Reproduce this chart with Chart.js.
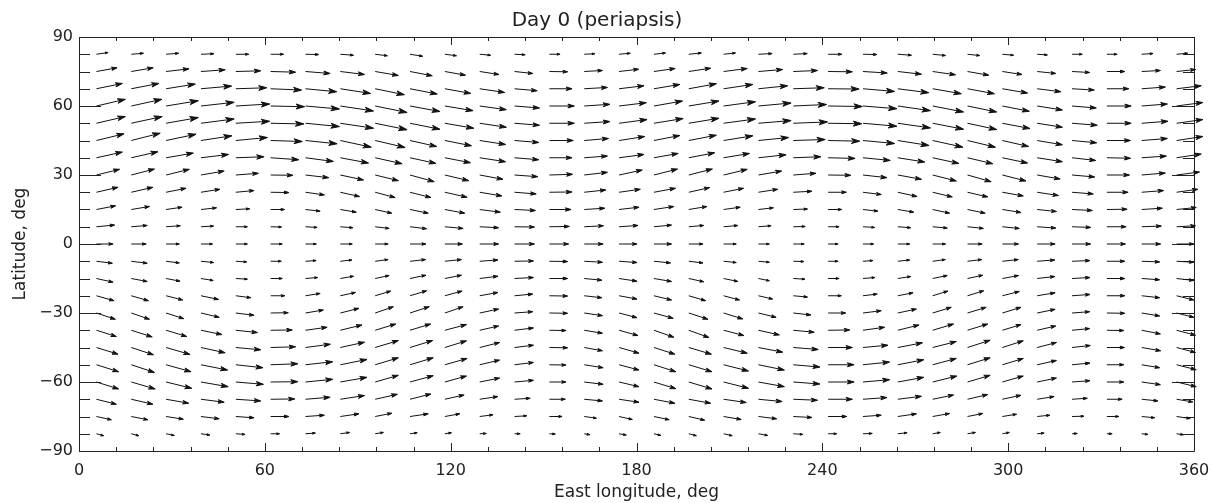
<!DOCTYPE html>
<html>
<head>
<meta charset="utf-8">
<title>Day 0 (periapsis)</title>
<script src="https://cdn.jsdelivr.net/npm/chart.js@4.4.1/dist/chart.umd.min.js"></script>
<style>
  html, body { margin: 0; padding: 0; background: #fff; }
  #wrap { width: 1212px; height: 503px; }
</style>
</head>
<body>
<div id="wrap"><canvas id="quiverChart" width="1212" height="503"></canvas></div>
<script>
// Grid of the wind vectors: east longitude and latitude, deg
const lons = [5.625, 16.875, 28.125, 39.375, 50.625, 61.875, 73.125, 84.375,
  95.625, 106.875, 118.125, 129.375, 140.625, 151.875, 163.125, 174.375,
  185.625, 196.875, 208.125, 219.375, 230.625, 241.875, 253.125, 264.375,
  275.625, 286.875, 298.125, 309.375, 320.625, 331.875, 343.125, 354.375];
const lats = [82.5, 75, 67.5, 60, 52.5, 45, 37.5, 30, 22.5, 15, 7.5, 0,
  -7.5, -15, -22.5, -30, -37.5, -45, -52.5, -60, -67.5, -75, -82.5];

// Eastward component, one row per latitude (north to south)
const uRows = [
  [11.7,12.3,12.7,13,13,13,13.3,13.3,12.3,12.7,11.7,11,10.7,10.7,10.7,11.3,11.7,12.7,12,13.7,14,13.7,14,13.7,13,12.3,11.3,10.3,10.3,10.3,11.3,11.3],
  [20.7,22,23,24.3,25,25,24.7,24.3,23.3,22.3,20.7,19.3,18.3,18.3,18.3,19.7,21.3,22,23.7,24.3,24.3,24.3,24.3,23.7,23,21.3,19.7,18.7,17.7,18,18.7,19],
  [26,27.7,29.3,30.7,31,31,31.3,30.3,29.3,27.3,26,25,22.7,22.7,23.3,25,26,27.7,29.3,29.3,31,31,31.7,31,28.7,27,25.3,23.7,22.3,22,23.7,24.7],
  [29,30.7,32.3,33.3,34,34,34,33.3,32,30,28.3,26.7,25,25,25.7,27.3,28.7,30.3,32,32.7,33.3,34.3,34,32.7,31,29.3,27,25.3,24.3,24.3,25.7,26.3],
  [29,31,32.3,33.3,34,33.3,34,33.3,32,30,29,26.7,25,25,25.7,28,29.3,30.3,32,32.7,34.3,33.7,34,32.7,31,29.3,27.7,25.3,25.3,24.3,26.3,26.3],
  [27.7,29,30,31,31.7,31.7,31.7,31,30,26.7,26.7,26,24.3,24,24.3,25.7,26,27.7,29.3,30.3,32,31.7,31.7,31.3,30.3,28,26.3,25.3,24.7,23.7,25.7,26.3],
  [26,26.7,27.3,27.7,28.3,28.3,28,28.3,27,26,25.7,26,24.3,22.7,23.3,25,24.3,26,26,27.7,27.7,27,27.3,27,26.3,25.3,25.3,25.3,23.7,23.7,24.7,24.7],
  [23.3,23.3,23.3,23.3,22.7,22.3,23.3,23.3,23.3,24.3,24,23.3,23.3,23.3,23.3,23.3,23.7,23.7,23.7,23.3,22.7,22.7,24,23.7,23.7,23.7,23.7,23,22.7,22.7,23.7,23],
  [21.7,21.7,20,19,18.3,18.3,19,19.3,20,21,22.3,22.3,21.7,22.7,21.7,21.3,21.7,21,20,19.3,18.7,18.3,18.3,19.3,19.7,20.3,21,21.3,21.3,21.3,22,21.3],
  [19.3,18.3,16,15.7,14,14,14.7,16,16.7,18.3,20,20.7,21,21.7,20.7,20,20,18.3,16.7,15,14.3,13.7,15,16,17,17.7,18.7,19.3,20.3,20.3,20.7,19.7],
  [18.3,16,14.3,12.7,11.7,11,11.7,12.7,14,16.7,18.3,19,20,20,19.3,19,17.7,15,14.3,12.7,12,11,11.7,13,14.7,16,17,18.7,18.7,19.3,19.7,19],
  [16.7,15,13.3,11.7,11.7,11.7,11,12,13,16,17.7,19,20,19.3,19,18,17.7,14.3,12.7,11,11,10,10.7,12,13,14.7,16.3,18,18.7,18.7,19,17.3],
  [16,16,13.3,12.7,11,10.7,10.7,11.7,13,15.7,16.7,18.3,19,18.3,18.3,18,16.7,14.3,12.7,11,10.7,10,10,12,12.7,14.3,16,17.7,18,18,18,17.3],
  [16.7,16,14,12.3,11.7,11.7,12.3,13.3,14,16,16.7,18.3,19,18.3,17.7,18,17.7,15,14.3,11,11.7,11,12,13,14.7,15.3,16.3,17.7,18,18,18,17.3],
  [17.7,17.3,16.7,17.7,15,14.3,14.7,15.3,15.7,16.7,17.3,18.3,18.3,18.3,17.7,18,17.7,17,16,14.3,14.3,13.3,14.3,15.3,15.3,16.3,17,18,18,18,18,17.3],
  [19,18.3,17.7,18.3,18.3,17.7,18,18.7,18.3,19.3,18.3,19,18.3,18.3,18.3,18,19.3,19.3,19.3,17.7,17.7,17.7,18.3,18.7,18.7,18.7,18.7,18,17.7,18,18,17.3],
  [20,21,20.7,21,21.7,21.7,21.7,21.7,20.7,20.7,21.7,19,19,16.7,18.3,19,20,20.3,20.3,21,21,21.7,21.7,21.3,21,20.3,18.7,18.7,17.7,17,18.7,19],
  [21.7,22.3,24,24.3,25,25,25,24.3,23.3,22.7,21.7,20,19,18.3,18.3,20,21,22.7,23.7,24.3,25,24.3,25,24.7,23.7,22.7,21,19.3,18.3,17.7,19,19],
  [22.3,23.3,25,26.7,27.3,27.3,27.3,26.7,23.3,23.3,22.3,20,19,16.7,19,20,22,23.3,25,26,26.7,26,26.7,26,23.7,22.7,21,19.3,18,17,18,19.7],
  [22.3,24,25.7,27.3,27.7,27.3,27.3,26.7,23.3,23.3,21.7,20,19,16.7,19,20,22,23.3,25,26,26.7,26,26.7,26,24.3,22.7,21,19.3,18,17,18.7,19.7],
  [20,21.7,22.7,23.3,25,24.3,24.7,24.3,22.3,21,19.3,18.3,15.7,16,18.3,20,21,22,22.7,23.7,24.3,24.3,24,23.7,21,20.3,18.7,17,15.3,15.3,16.3,16.3],
  [15,16.7,17.3,18.3,18.3,18.3,19,18.7,16.7,18.3,15,13.3,12.3,12.7,12.3,13.3,15.3,16,17.7,18.3,18.7,18.7,18.3,18.7,17,15.3,14.3,12.7,12,12,13,13.7],
  [7.3,7.7,8.3,9,9.3,9,10,9.3,8.3,7.3,6.7,6.7,5.7,6,5.7,7.3,7,7.7,8.7,9.3,9.7,8.7,9.3,9.3,7.7,8,7,7,5.3,5.3,6.3,7]
];

// Northward component, same layout
const vRows = [
  [1.7,1,1,0.5,0,0,-0.3,-1,-1.5,-2,-1.5,-1,-0.5,0,0.5,1,1.3,1.3,1.3,0.7,0.7,0,-0.3,-1,-1.3,-1.3,-1,-0.7,0,0,0.7,1],
  [3.7,3.7,2.7,1.7,0.7,-0.7,-2,-3,-4,-4.3,-3.7,-3,-2,-0.3,1,2.3,3,3.3,3,2,1,-0.3,-1.5,-2.7,-3.3,-3.7,-3,-2,-1,0,1,2],
  [5.3,5.3,4.7,2.7,1,-1.3,-3,-4.7,-6,-5.3,-4.7,-3.7,-2,0,1.3,3,4.3,5,4.3,3,1,-0.3,-2.7,-4,-5,-5,-4.3,-3,-1.3,0,1.7,3],
  [6.7,6.7,5.3,3.7,2,-0.7,-3,-5,-6.5,-5.5,-4.7,-3.7,-2,0,1.7,3.3,5,5,4.3,3,1.5,-0.5,-2.7,-4.7,-6,-6,-5.3,-4,-2,0,2,3.5],
  [6.7,6.7,5.7,4.3,2,-0.7,-3.3,-5,-6.5,-6,-5,-4,-2,0,1.7,3.7,4.7,5,4.3,2.7,1.3,-0.5,-3,-4.7,-6,-6.3,-5.3,-4,-2,0,2,3.7],
  [6.7,7.3,6.3,4.7,3,-1,-3.3,-6.7,-7,-6,-5.3,-4,-2,0,2,4,5,5.3,4.7,3,1,-0.7,-3,-5,-6.7,-6.7,-6,-4.3,-2.3,0,2,4],
  [5.7,6,4.7,3.3,1,-2,-3.7,-5.3,-6,-5.7,-5,-4,-2,0,1.7,3.3,4.3,5,4.3,3,1,-0.7,-2.7,-4.3,-5.7,-6,-5.3,-4,-2.7,-0.5,1.7,3.7],
  [5.7,6,5.7,4,1.7,-0.3,-2.7,-5,-5.7,-6.7,-5.7,-4.3,-1.7,0.7,2.7,5,6,6,5.7,4,1.7,-0.3,-2.7,-4.3,-6,-6.7,-6,-4,-2,0,2,3],
  [5,5,4,3,1.7,-0.3,-2.7,-4.3,-5.3,-5.3,-5,-3.7,-1.7,0.3,2.3,3,4,4.7,4,3,1,0,-2.3,-4.3,-4.7,-4.7,-3.7,-3.3,-1.7,0,1.7,3],
  [3.7,3,2.3,1.7,0.7,0,-1.7,-2.7,-3.7,-3.7,-3.7,-2.7,-1,0,1.3,2.3,3,3,2.3,1.7,0.5,0,-1.7,-2.7,-3.7,-3.7,-3,-2,-1,0.3,1.3,2],
  [1.7,1.3,1,0.7,0,-0.3,-0.7,-1,-1.7,-2,-1.7,-1,-0.3,0.3,1,1.3,1.7,1.3,1.3,1,0.3,0,-0.7,-1,-1.3,-1.7,-1.7,-1.3,-0.7,0,0.7,1],
  [0,0,0,0,0,0,0,0,0,0,0,0,0,0,0,0,0,0,0,0,0,0,0,0,0,0,0,0,0,0,0,0],
  [-2,-2,-1.7,-1.3,-0.7,0,0.7,1.3,1.7,1.7,1.7,1.3,0.3,-0.3,-1,-1.3,-1.7,-1.7,-1.3,-1,-0.3,0,0.7,1.3,1.7,1.7,1.7,1.3,0.7,0,-0.7,-1],
  [-3.7,-3,-2.7,-2,-0.7,0,1,2.3,3,3.3,3.3,2.3,1,0,-1.7,-2.7,-3,-3.3,-3,-2.3,-0.7,0,1,2,3,3.3,3,2,1,0,-1.3,-2],
  [-5,-5,-4.3,-3.7,-2,0,2.3,3.3,4.7,5,4.7,3.3,1.7,-0.3,-2,-3.3,-4.3,-5,-4.3,-3.3,-1.3,0,1.7,3,4.7,5,4.3,3,1.3,0,-2,-4.3],
  [-6.3,-6.3,-5.7,-4.3,-2.3,0.3,3,4.7,6.3,6.3,6.3,4,1.3,-0.3,-2.7,-4.7,-5.3,-6.3,-6,-4.3,-2,0,2.3,4,5.7,5.7,5.7,3.7,1.3,-0.3,-3,-4.3],
  [-6.3,-6.7,-6.3,-4.3,-2.3,0.3,3,5.3,6.3,6.3,5.7,4.3,2.3,-0.3,-3,-5.3,-7,-7.3,-5.3,-4.7,-2,0.3,3,5.3,6.3,6.3,5.7,4.3,1.7,-0.3,-3.7,-5],
  [-6.7,-7.3,-7,-5.3,-2.3,0.7,3.3,5.3,7,7,6.7,5,2.3,-0.3,-3.3,-5.7,-6.7,-6.7,-5.7,-4.7,-2,0,2.3,4.7,6,7.3,6.7,5,2,0,-3.3,-5],
  [-7,-7.7,-7,-5.3,-3,1,3,5.3,7,7,6.3,4.7,2.3,-0.3,-3,-5.3,-7,-7,-6.3,-5.3,-2.3,0,2.7,5,6.3,7,6.3,4.3,1.7,0,-3,-5],
  [-7,-7,-6.3,-4.7,-2.3,0.3,2.7,4.7,6.7,6.3,6,4,1.7,0,-2.3,-4.7,-6.7,-7,-6.3,-4.7,-2,0,2.3,4.7,6,6.7,6,4,1.3,0,-2.7,-4.7],
  [-5,-5,-4,-3,-1.7,0.3,2,3.7,5,5.3,4.3,2.7,1,0,-1.7,-3,-4,-4,-3.3,-2.3,-1,0,1.7,3,4.3,4.7,4,2.7,1,0,-1.7,-2.7],
  [-3.3,-3.3,-2.7,-2.3,-1.3,0,1.3,2.7,3.3,2.7,2.7,1.7,0.7,0,-1.7,-3,-3.3,-3.7,-3,-2.3,-1,0,1.3,2.7,3,3,2.3,1.3,0.3,0,-1.3,-2],
  [-2,-2,-1.7,-1.3,-0.7,0,0.7,1.3,1.3,1,1,0.3,0,-0.3,-1,-1.3,-1.7,-2,-2,-1.7,-0.7,0,0.3,1,1.3,1.3,1.3,0.7,0.3,0,-0.7,-1]
];

// Axis tick labels
const xTicks = [0, 60, 120, 180, 240, 300, 360];
const yTicks = [-90, -60, -30, 0, 30, 60, 90];
const xMinorStep = 12;
const yMinorStep = 7.5;

// vector units -> degrees of longitude / latitude on the plot
const DEG_PER_U = 360 / 1116;
const DEG_PER_V = 180 / 414;

const INK = '#222';
const FONT = '"DejaVu Sans", sans-serif';

function fmtTick(v) {
  return v < 0 ? '\u2212' + Math.abs(v) : String(v);
}

function drawArrow(ctx, x0, y0, x1, y1) {
  const dx = x1 - x0, dy = y1 - y0;
  const len = Math.hypot(dx, dy);
  if (len < 0.5) return;
  const ux = dx / len, uy = dy / len;
  const h = Math.min(8.5, Math.max(3, len * 0.26));
  const w = h * 0.3;
  const bx = x1 - ux * h, by = y1 - uy * h;
  ctx.beginPath();
  ctx.moveTo(x0, y0);
  ctx.lineTo(bx + ux * h * 0.5, by + uy * h * 0.5);
  ctx.stroke();
  ctx.beginPath();
  ctx.moveTo(x1, y1);
  ctx.lineTo(bx - uy * w, by + ux * w);
  ctx.lineTo(bx + ux * h * 0.25, by + uy * h * 0.25);
  ctx.lineTo(bx + uy * w, by - ux * w);
  ctx.closePath();
  ctx.fill();
  ctx.stroke();
}

// box with inward ticks on all four sides, like the original plot
const framePlugin = {
  id: 'frame',
  beforeDatasetsDraw(chart) {
    const { ctx, chartArea: a, scales: { x, y } } = chart;
    const majX = 8, minX = 4, majY = 22, minY = 11;
    ctx.save();
    ctx.strokeStyle = INK;
    ctx.lineWidth = 1;
    ctx.beginPath();
    ctx.rect(Math.round(a.left) + 0.5, Math.round(a.top) + 0.5,
      Math.round(a.right - a.left), Math.round(a.bottom - a.top));
    for (let v = x.min; v <= x.max + 1e-6; v += xMinorStep) {
      const px = Math.round(x.getPixelForValue(v)) + 0.5;
      const len = xTicks.includes(v) ? majX : minX;
      ctx.moveTo(px, a.bottom); ctx.lineTo(px, a.bottom - len);
      ctx.moveTo(px, a.top); ctx.lineTo(px, a.top + len);
    }
    for (let v = y.min; v <= y.max + 1e-6; v += yMinorStep) {
      const py = Math.round(y.getPixelForValue(v)) + 0.5;
      const len = yTicks.includes(v) ? majY : minY;
      ctx.moveTo(a.left, py); ctx.lineTo(a.left + len, py);
      ctx.moveTo(a.right, py); ctx.lineTo(a.right - len, py);
    }
    ctx.stroke();
    ctx.restore();
  }
};

const quiverPlugin = {
  id: 'quiver',
  afterDatasetsDraw(chart) {
    const { ctx, scales: { x, y } } = chart;
    ctx.save();
    ctx.strokeStyle = '#111';
    ctx.fillStyle = '#111';
    ctx.lineWidth = 1;
    lats.forEach((lat, i) => {
      lons.forEach((lon, j) => {
        const x0 = x.getPixelForValue(lon);
        const y0 = y.getPixelForValue(lat);
        const x1 = x.getPixelForValue(lon + uRows[i][j] * DEG_PER_U);
        const y1 = y.getPixelForValue(lat + vRows[i][j] * DEG_PER_V);
        drawArrow(ctx, x0, y0, x1, y1);
      });
    });
    ctx.restore();
  }
};

// tails of the arrows as the dataset
const tails = [];
lats.forEach(lat => lons.forEach(lon => tails.push({ x: lon, y: lat })));

const ctx = document.getElementById('quiverChart').getContext('2d');
const quiverChart = new Chart(ctx, {
  type: 'scatter',
  data: {
    datasets: [{
      label: 'wind',
      data: tails,
      pointRadius: 0,
      pointHoverRadius: 0
    }]
  },
  options: {
    responsive: false,
    devicePixelRatio: 1,
    animation: false,
    layout: { padding: { left: 0, right: 18, top: 0, bottom: 0 } },
    plugins: {
      legend: { display: false },
      tooltip: { enabled: false },
      title: {
        display: true,
        text: 'Day 0 (periapsis)',
        color: INK,
        font: { family: FONT, size: 20, weight: 'normal', lineHeight: 1.2 },
        padding: { top: 9, bottom: 4 }
      }
    },
    scales: {
      x: {
        type: 'linear',
        min: 0,
        max: 360,
        afterBuildTicks: s => { s.ticks = xTicks.map(v => ({ value: v })); },
        afterFit: s => { s.height = 52; s.paddingLeft = 0; s.paddingRight = 0; },
        grid: { display: false, drawTicks: false },
        border: { display: false },
        ticks: {
          color: INK,
          padding: 10,
          maxRotation: 0,
          font: { family: FONT, size: 16 },
          callback: v => fmtTick(v)
        },
        title: {
          display: true,
          text: 'East longitude, deg',
          color: INK,
          font: { family: FONT, size: 17 },
          padding: { top: 0, bottom: 0 }
        }
      },
      y: {
        type: 'linear',
        min: -90,
        max: 90,
        afterBuildTicks: s => { s.ticks = yTicks.map(v => ({ value: v })); },
        afterFit: s => { s.width = 79; s.paddingTop = 0; s.paddingBottom = 0; },
        grid: { display: false, drawTicks: false },
        border: { display: false },
        ticks: {
          color: INK,
          padding: 6,
          font: { family: FONT, size: 16 },
          callback: v => fmtTick(v)
        },
        title: {
          display: true,
          text: 'Latitude, deg',
          color: INK,
          font: { family: FONT, size: 17 },
          padding: { top: 10, bottom: 0 }
        }
      }
    }
  },
  plugins: [framePlugin, quiverPlugin]
});
</script>
</body>
</html>
